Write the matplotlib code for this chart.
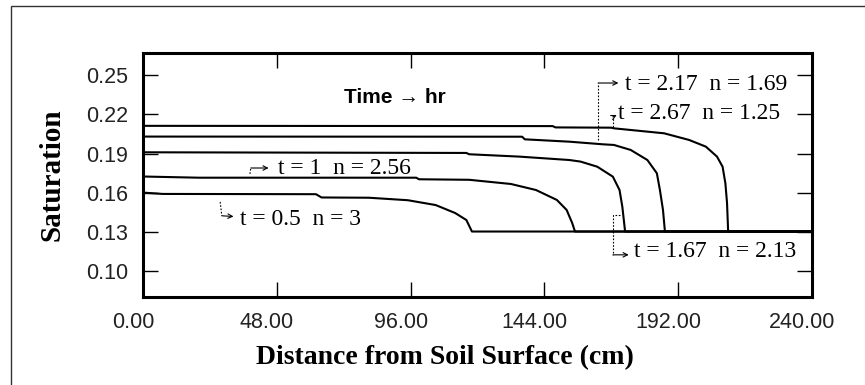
import matplotlib
matplotlib.use('Agg')
import matplotlib.pyplot as plt
from matplotlib.patches import Rectangle
from matplotlib.transforms import ScaledTranslation

# distance from soil surface (cm) and saturation for each time
d_05 = [0, 7, 62, 64, 81, 95, 105, 112, 116, 118, 240]
s_05 = [0.1602, 0.1592, 0.1590, 0.1565, 0.1563, 0.1544, 0.1507, 0.1446, 0.1393, 0.1305, 0.1305]

d_1 = [0, 20, 98, 99, 117, 132, 141, 148.5, 152, 154, 155, 240]
s_1 = [0.1725, 0.1716, 0.1716, 0.1704, 0.1700, 0.1668, 0.1622, 0.1546, 0.1470, 0.1370, 0.1305, 0.1305]

d_167 = [0, 116, 117, 135, 153, 157, 163, 168.6, 171, 172, 173, 240]
s_167 = [0.1910, 0.1905, 0.1895, 0.1877, 0.1851, 0.1839, 0.1800, 0.1724, 0.1622, 0.1495, 0.1305, 0.1305]

d_217 = [0, 136, 137, 153, 165, 169, 175, 181, 184.4, 185.5, 186.6, 187.3, 240]
s_217 = [0.2030, 0.2029, 0.2009, 0.1991, 0.1971, 0.1966, 0.1928, 0.1851, 0.1750, 0.1622, 0.1470, 0.1305, 0.1305]

d_267 = [0, 147, 148, 168, 169, 187, 196, 202, 206, 208, 209, 209.6, 210, 240]
s_267 = [0.2112, 0.2110, 0.2100, 0.2098, 0.2093, 0.2055, 0.2004, 0.1953, 0.1877, 0.1800, 0.1674, 0.1523, 0.1305, 0.1305]

x_ticks = [0, 48, 96, 144, 192, 240]
y_ticks = [0.10, 0.13, 0.16, 0.19, 0.22, 0.25]

labels = ['t = 0.5  n = 3', 't = 1  n = 2.56', 't = 1.67  n = 2.13',
          't = 2.17  n = 1.69', 't = 2.67  n = 1.25']


def pointer(ax, path):
    '''
    dotted bent leader ending in a small arrow head
    '''
    xs = [p[0] for p in path]
    ys = [p[1] for p in path]
    ax.plot(xs[:-1], ys[:-1], color='black', lw=0.8, ls=(0, (1.5, 1.5)))
    ax.annotate('', xy=path[-1], xytext=path[-2],
                arrowprops=dict(arrowstyle='->', lw=0.8, color='black',
                                shrinkA=0, shrinkB=0, mutation_scale=8))


def main():
    fig = plt.figure(figsize=(8.65, 3.85), dpi=100)
    ax = fig.add_axes([143.3 / 865, 1 - 297 / 385, 668.4 / 865, 244.5 / 385])

    for d, s in [(d_05, s_05), (d_1, s_1), (d_167, s_167), (d_217, s_217), (d_267, s_267)]:
        ax.plot(d, s, color='black', lw=1.5)

    ax.set_xlim(0, 240)
    ax.set_ylim(0.0805, 0.2672)
    ax.set_xticks(x_ticks)
    ax.set_yticks(y_ticks)
    ax.set_xticklabels(['%.2f' % v for v in x_ticks])
    ax.set_yticklabels(['%.2f' % v for v in y_ticks])
    ax.tick_params(direction='in', length=11, width=1.0, top=True, right=True,
                   labelsize=15.5, pad=11)
    shift = ScaledTranslation(-0.1, 0, fig.dpi_scale_trans)
    for lab in ax.get_xticklabels():
        lab.set_transform(lab.get_transform() + shift)
    for lab in ax.get_xticklabels() + ax.get_yticklabels():
        lab.set_family('Liberation Sans')
        lab.set_color('#222222')
    for sp in ax.spines.values():
        sp.set_linewidth(2.2)

    ax.set_xlabel('Distance from Soil Surface (cm)', family='Liberation Serif',
                  fontweight='bold', fontsize=20)
    ax.xaxis.label.set_va('center')
    ax.xaxis.set_label_coords((445 - 143.3) / 668.4, -(358 - 297) / 244.5)
    ax.set_ylabel('Saturation', family='Liberation Serif', fontweight='bold',
                  fontsize=21)
    ax.yaxis.label.set_va('center')
    ax.yaxis.set_label_coords(-(143.3 - 52) / 668.4, 0.5)

    ax.text(90.4, 0.2325, 'Time \u2192 hr', family='Liberation Sans',
            fontweight='bold', fontsize=15, ha='center', va='center')

    tfont = dict(family='Liberation Serif', fontsize=17, va='center', ha='left')
    ax.text(34.8, 0.1394, labels[0], **tfont)
    pointer(ax, [(27.6, 0.1531), (28.2, 0.1425), (32.4, 0.1420)])
    ax.text(48.4, 0.1790, labels[1], **tfont)
    pointer(ax, [(38.3, 0.1745), (38.6, 0.1790), (45.0, 0.1790)])
    ax.text(176.2, 0.1150, labels[2], **tfont)
    pointer(ax, [(171.3, 0.1432), (168.6, 0.1432), (168.6, 0.1127), (174.3, 0.1127)])
    ax.text(173.0, 0.2424, labels[3], **tfont)
    pointer(ax, [(163.3, 0.2004), (163.3, 0.2439), (170.6, 0.2439)])
    ax.text(170.4, 0.2210, labels[4], **tfont)
    pointer(ax, [(168.6, 0.2103), (168.6, 0.2180), (170.0, 0.2195)])

    # outer frame of the picture
    fig.patches.append(Rectangle((11 / 865, -0.05), 2.0, 1.05 - 6 / 385,
                                 transform=fig.transFigure, fill=False,
                                 edgecolor='#333333', lw=1.0))

    fig.savefig('out.png', dpi=100)
    plt.close(fig)


if __name__ == '__main__':
    main()
